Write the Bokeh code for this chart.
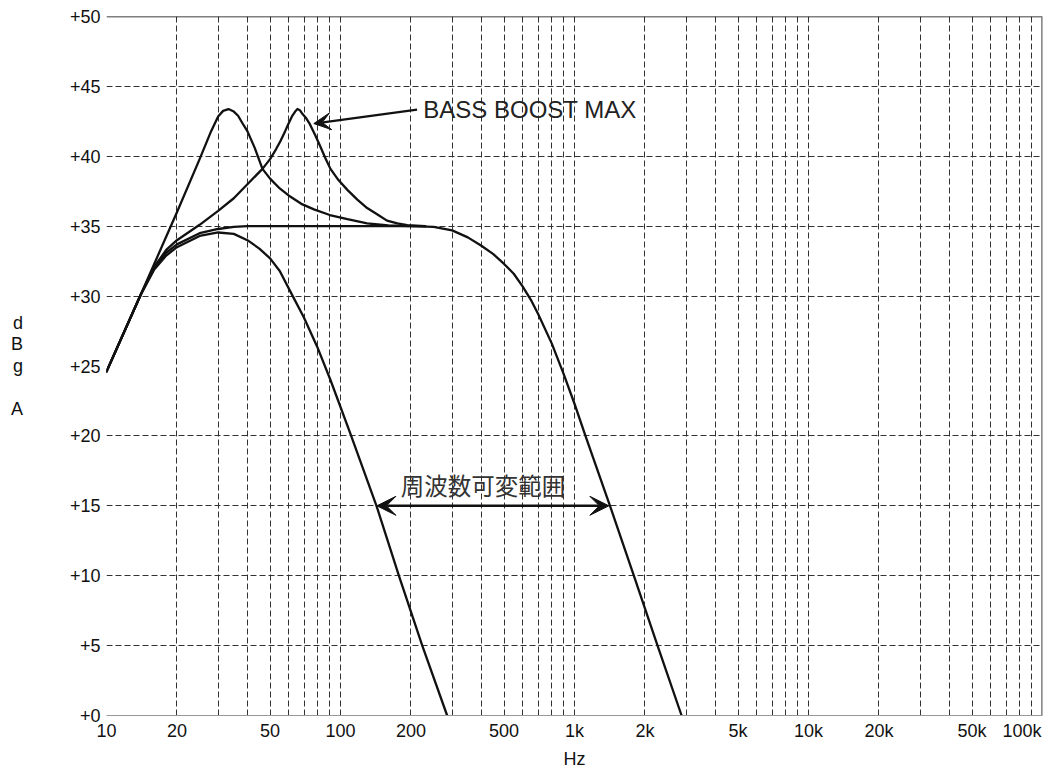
from bokeh.plotting import figure
from bokeh.models import FixedTicker, Span, Label, Arrow, VeeHead
from bokeh.embed import file_html
from bokeh.resources import INLINE

# ---------------- data ----------------
x_ticks = [10, 20, 50, 100, 200, 500, 1000, 2000, 5000, 10000, 20000, 50000, 100000]
x_tick_labels = ["10", "20", "50", "100", "200", "500", "1k", "2k", "5k", "10k", "20k", "50k",
                 "100k\u00a0"]
x_minor = [30, 40, 60, 70, 80, 90, 300, 400, 600, 700, 800, 900,
           3000, 4000, 6000, 7000, 8000, 9000, 30000, 40000, 60000, 70000, 80000, 90000]
y_ticks = [0, 5, 10, 15, 20, 25, 30, 35, 40, 45, 50]
y_tick_labels = ["+0", "+5", "+10", "+15", "+20", "+25", "+30", "+35", "+40", "+45", "+50"]
y_grid = [0, 5, 10, 15, 20, 30, 35, 40, 45, 50]

# bass boost peak at ~33 Hz
c1_hz = [10, 14, 20, 25, 28, 30, 31.5, 33.2, 35, 36.5, 38, 40, 43, 46.4, 50, 55, 60, 68, 77, 90, 107, 130, 160, 200, 230]
c1_db = [24.6, 30.1, 36.0, 39.8, 41.8, 42.85, 43.25, 43.38, 43.2, 42.9, 42.4, 41.8, 40.6, 39.1, 38.4, 37.7, 37.2, 36.6, 36.2, 35.8, 35.5, 35.2, 35.05, 35.0, 35.0]

# bass boost peak at ~65 Hz
c2_hz = [10, 14, 16, 18, 20, 25, 30, 35, 40, 46.4, 50, 53, 55.4, 58, 60, 62, 64, 65.5, 67, 69, 71.5, 74, 78, 82, 86, 90.6, 98, 107, 118, 130, 145, 158, 175, 193, 230]
c2_db = [24.6, 30.1, 32.1, 33.3, 34.0, 35.1, 36.1, 37.0, 38.0, 39.1, 39.8, 40.5, 41.1, 41.8, 42.35, 42.85, 43.2, 43.38, 43.3, 43.0, 42.7, 42.3, 41.5, 40.7, 39.9, 39.1, 38.3, 37.6, 36.9, 36.3, 35.8, 35.4, 35.2, 35.07, 35.0]

# flat response, upper cut-off
c3_hz = [10, 14, 16, 18, 20, 25, 30, 35, 40, 50, 100, 200, 250, 300, 350, 400, 450, 500, 550, 600, 650, 700, 800, 900, 1000, 1114, 1418, 1793, 2264, 2868]
c3_db = [24.6, 30.1, 32.0, 33.1, 33.7, 34.5, 34.8, 34.95, 35.0, 35.0, 35.0, 35.0, 34.95, 34.7, 34.2, 33.6, 33.0, 32.3, 31.6, 30.7, 29.75, 28.7, 26.6, 24.4, 22.3, 20.0, 15.0, 10.0, 5.0, 0.0]

# lower cut-off
c4_hz = [10, 14, 16, 18, 20, 25, 30, 35, 40, 45, 50, 55, 62.5, 69.6, 79.4, 90.6, 110, 142.5, 177.6, 223.6, 285.6]
c4_db = [24.6, 30.1, 31.9, 32.9, 33.5, 34.3, 34.55, 34.45, 34.0, 33.4, 32.7, 31.8, 30.0, 28.5, 26.4, 24.0, 20.2, 15.0, 10.0, 5.0, 0.0]

y_label_text = "d\nB\ng\n\nA"

bass_text = "BASS BOOST MAX"
range_text = "周波数可変範囲"

FONT = "Liberation Sans"
INK = "#111111"
GRID = "#333333"

p = figure(width=1046, height=771, x_axis_type="log", x_range=(10, 100000), y_range=(0, 50),
           output_backend="svg", toolbar_location=None,
           min_border_left=106, min_border_right=4, min_border_top=16, min_border_bottom=55)
p.outline_line_color = None
p.background_fill_color = "white"

# axes
p.xaxis.ticker = FixedTicker(ticks=x_ticks, minor_ticks=x_minor)
p.xaxis.major_label_overrides = {t: l for t, l in zip(x_ticks, x_tick_labels)}
p.yaxis.ticker = FixedTicker(ticks=y_ticks)
p.yaxis.major_label_overrides = {t: l for t, l in zip(y_ticks, y_tick_labels)}
for ax in (p.xaxis[0], p.yaxis[0]):
    ax.major_tick_line_color = None
    ax.minor_tick_line_color = None
    ax.major_tick_out = 0
    ax.major_tick_in = 0
    ax.minor_tick_out = 0
    ax.minor_tick_in = 0
    ax.major_label_text_font = FONT
    ax.major_label_text_font_size = "18px"
    ax.major_label_text_color = "#111111"
    ax.axis_label_text_font = FONT
    ax.axis_label_text_font_size = "18px"
    ax.axis_label_text_font_style = "normal"
    ax.axis_label_text_color = "#111111"
p.yaxis.axis_line_color = None
p.xaxis.axis_line_color = "#999999"
p.yaxis.major_label_standoff = 6
p.xaxis.major_label_standoff = 5
p.xaxis.axis_label = "Hz"
p.xaxis.axis_label_standoff = 5

yax = p.yaxis[0]
if "axis_label_orientation" in yax.properties():
    yax.axis_label = y_label_text
    yax.axis_label_orientation = "horizontal"
    yax.axis_label_standoff = 44
    yax.axis_label_text_align = "center"
    yax.axis_label_text_line_height = 1.08
else:
    for i, ch in enumerate(["d", "B", "g", "A"]):
        p.add_layout(Label(x=18, y=[443, 420, 399, 357][i], x_units="screen", y_units="screen",
                           text=ch, text_font=FONT, text_font_size="18px",
                           text_color="#111111", text_align="center"))

# grid
p.xgrid.grid_line_color = GRID
p.xgrid.grid_line_dash = "6 3"
p.xgrid.grid_line_width = 1
p.xgrid.minor_grid_line_color = GRID
p.xgrid.minor_grid_line_dash = "6 3"
p.xgrid.minor_grid_line_width = 1
p.ygrid.ticker = FixedTicker(ticks=y_grid)
p.ygrid.grid_line_color = GRID
p.ygrid.grid_line_dash = "6 3"
p.ygrid.grid_line_width = 1

p.add_layout(Span(location=50, dimension="width", line_color="#000000", line_width=1.5))
p.add_layout(Span(location=100000, dimension="height", line_color="#666666", line_width=2.5))

# curves
for xs, ys in ((c1_hz, c1_db), (c2_hz, c2_db), (c3_hz, c3_db), (c4_hz, c4_db)):
    p.line(xs, ys, line_color=INK, line_width=2.3, line_join="round", line_cap="round")

# annotations
p.add_layout(Arrow(end=VeeHead(size=17, fill_color=INK, line_color=INK, line_width=1),
                   x_start=212.5, y_start=43.34, x_end=76.9, y_end=42.34,
                   line_color=INK, line_width=2.2))
p.add_layout(Label(x=225.8, y=43.32, text=bass_text, text_font=FONT, text_font_size="24px",
                   text_color="#222222", text_baseline="middle", text_align="left"))

p.add_layout(Arrow(start=VeeHead(size=19, fill_color=INK, line_color=INK, line_width=1),
                   end=VeeHead(size=19, fill_color=INK, line_color=INK, line_width=1),
                   x_start=143.1, y_start=15, x_end=1402, y_end=15,
                   line_color=INK, line_width=2.6))
p.add_layout(Label(x=406.4, y=16.46, text=range_text, text_font="Noto Sans CJK JP",
                   text_font_size="23.5px", text_color="#333333",
                   text_baseline="middle", text_align="center"))

open("out.html", "w").write(file_html(p, INLINE))
